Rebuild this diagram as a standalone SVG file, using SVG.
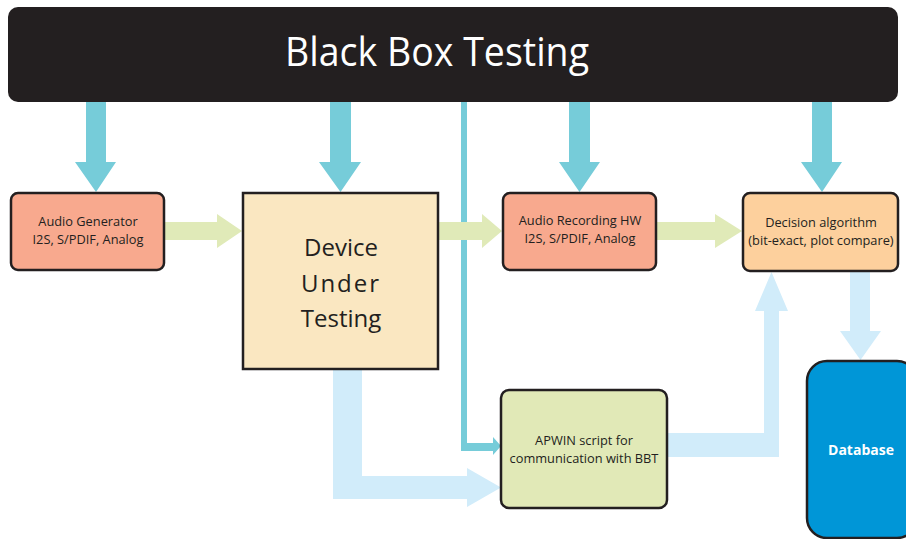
<svg xmlns="http://www.w3.org/2000/svg" width="906" height="539" viewBox="0 0 906 539">
<style>
.box{stroke:#231f20;stroke-width:2.5}
.cyan{fill:#76ccd9}
.green{fill:#e0eab8}
.lblue{fill:#d1ecfa}
.t{font-family:"Open Sans","Liberation Sans",sans-serif;fill:#231f20;text-anchor:middle}
.s{font-size:12.8px}
</style>
<rect width="906" height="539" fill="#ffffff"/>
<g id="connectors">
<polygon class="cyan" points="86,100 106,100 106,162 116,162 96,192 75,162 86,162"/>
<polygon class="cyan" points="330,100 351,100 351,162 361,162 340.5,192 319,162 330,162"/>
<polygon class="cyan" points="569,100 590,100 590,162 600,162 579.5,192 559,162 569,162"/>
<polygon class="cyan" points="812,100 832,100 832,162 842,162 822,192 801,162 812,162"/>
<polygon class="cyan" points="461,100 467,100 467,443 493,443 493,437 501,446 493,455 493,451 461,451"/>
<polygon class="green" points="164,222 217,222 217,214 242,231 217,248 217,240 164,240"/>
<polygon class="green" points="438,222 482,222 482,214 502,231 482,248 482,240 438,240"/>
<polygon class="green" points="656,222 715,222 715,214 742,231 715,248 715,240 656,240"/>
<polygon class="lblue" points="333,369 362,369 362,476 467,476 467,468 501,487.5 467,507 467,499 333,499"/>
<polygon class="lblue" points="667,433 764,433 764,311 755,311 771.5,272 788,311 779,311 779,457 667,457"/>
<polygon class="lblue" points="850,270 870,270 870,331 881,331 860.5,360 840,331 850,331"/>
</g>
<g id="title">
<rect x="8" y="7" width="890" height="95" rx="10" fill="#231f20"/>
<text x="437" y="66" font-family="'Open Sans','Liberation Sans',sans-serif" font-size="40" fill="#ffffff" text-anchor="middle" textLength="304" lengthAdjust="spacingAndGlyphs">Black Box Testing</text>
</g>
<g id="audio-generator">
<rect class="box" x="11" y="193" width="153" height="77" rx="7" fill="#f8a98e"/>
<text class="t s" x="88" y="226">Audio Generator</text>
<text class="t s" x="88" y="244">I2S, S/PDIF, Analog</text>
</g>
<g id="device-under-testing">
<rect class="box" x="243" y="193" width="195" height="176" fill="#fae7c1" stroke-width="3"/>
<text class="t" x="341" y="256" font-size="24">Device</text>
<text class="t" x="341" y="292" font-size="24" letter-spacing="2">Under</text>
<text class="t" x="341" y="327" font-size="24">Testing</text>
</g>
<g id="audio-recording">
<rect class="box" x="503" y="193" width="153" height="77" rx="7" fill="#f8a98e"/>
<text class="t s" x="580" y="225">Audio Recording HW</text>
<text class="t s" x="580" y="243">I2S, S/PDIF, Analog</text>
</g>
<g id="decision">
<rect class="box" x="743" y="193" width="155" height="78" rx="7" fill="#fdd09d"/>
<text class="t s" x="821" y="227">Decision algorithm</text>
<text class="t s" x="821" y="245">(bit-exact, plot compare)</text>
</g>
<g id="apwin">
<rect class="box" x="501" y="390" width="166" height="118" rx="8" fill="#e1e9b7"/>
<text class="t s" x="584" y="445">APWIN script for</text>
<text class="t s" x="584" y="463">communication with BBT</text>
</g>
<g id="database">
<rect class="box" x="807" y="361" width="110" height="177" rx="20" fill="#0096d7"/>
<text x="861" y="455" font-family="'Open Sans','Liberation Sans',sans-serif" font-size="14" font-weight="bold" fill="#ffffff" text-anchor="middle">Database</text>
</g>
</svg>
